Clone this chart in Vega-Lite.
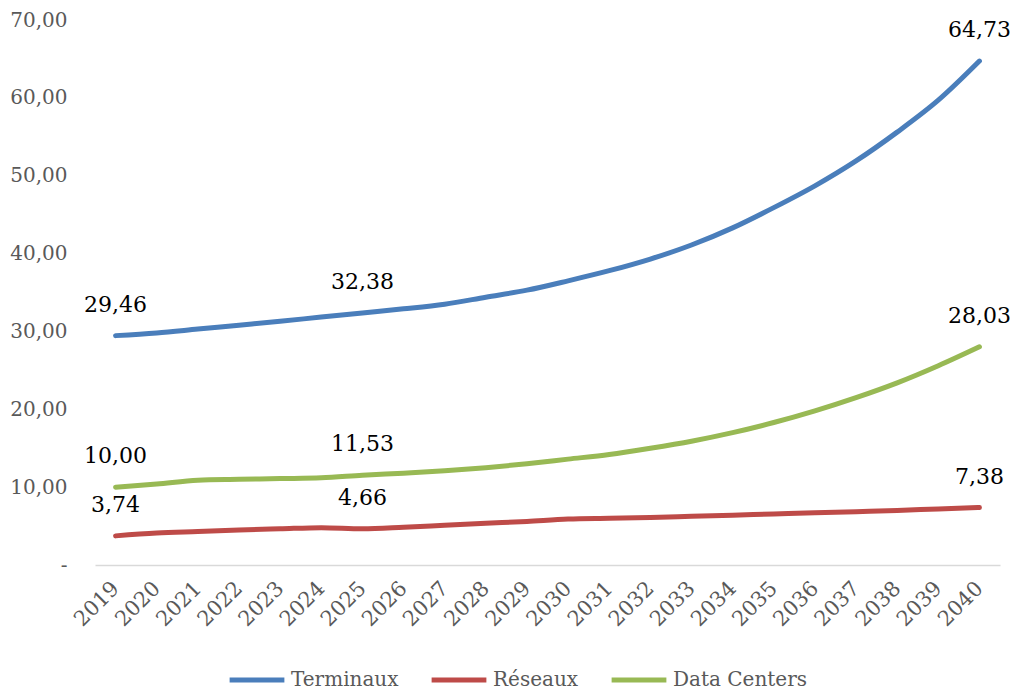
{
  "$schema": "https://vega.github.io/schema/vega-lite/v6.json",
  "autosize": "none",
  "width": 905,
  "height": 545,
  "padding": {"left": 95, "top": 20, "right": 18, "bottom": 125},
  "background": "white",
  "config": {
    "view": {"stroke": null},
    "font": "DejaVu Serif",
    "locale": {
      "number": {"decimal": ",", "thousands": "\u00a0", "grouping": [3], "currency": ["", " €"]}
    }
  },
  "data": {
    "values": [
      {"year": "2019", "series": "Terminaux", "value": 29.46},
      {"year": "2020", "series": "Terminaux", "value": 29.8},
      {"year": "2021", "series": "Terminaux", "value": 30.3},
      {"year": "2022", "series": "Terminaux", "value": 30.8},
      {"year": "2023", "series": "Terminaux", "value": 31.3},
      {"year": "2024", "series": "Terminaux", "value": 31.85},
      {"year": "2025", "series": "Terminaux", "value": 32.38},
      {"year": "2026", "series": "Terminaux", "value": 32.9},
      {"year": "2027", "series": "Terminaux", "value": 33.5},
      {"year": "2028", "series": "Terminaux", "value": 34.4},
      {"year": "2029", "series": "Terminaux", "value": 35.3},
      {"year": "2030", "series": "Terminaux", "value": 36.5},
      {"year": "2031", "series": "Terminaux", "value": 37.8},
      {"year": "2032", "series": "Terminaux", "value": 39.3},
      {"year": "2033", "series": "Terminaux", "value": 41.1},
      {"year": "2034", "series": "Terminaux", "value": 43.3},
      {"year": "2035", "series": "Terminaux", "value": 45.9},
      {"year": "2036", "series": "Terminaux", "value": 48.7},
      {"year": "2037", "series": "Terminaux", "value": 51.9},
      {"year": "2038", "series": "Terminaux", "value": 55.6},
      {"year": "2039", "series": "Terminaux", "value": 59.7},
      {"year": "2040", "series": "Terminaux", "value": 64.73},
      {"year": "2019", "series": "Réseaux", "value": 3.74},
      {"year": "2020", "series": "Réseaux", "value": 4.1},
      {"year": "2021", "series": "Réseaux", "value": 4.3},
      {"year": "2022", "series": "Réseaux", "value": 4.5},
      {"year": "2023", "series": "Réseaux", "value": 4.65},
      {"year": "2024", "series": "Réseaux", "value": 4.8},
      {"year": "2025", "series": "Réseaux", "value": 4.66},
      {"year": "2026", "series": "Réseaux", "value": 4.85},
      {"year": "2027", "series": "Réseaux", "value": 5.1},
      {"year": "2028", "series": "Réseaux", "value": 5.35},
      {"year": "2029", "series": "Réseaux", "value": 5.6},
      {"year": "2030", "series": "Réseaux", "value": 5.9},
      {"year": "2031", "series": "Réseaux", "value": 6.0},
      {"year": "2032", "series": "Réseaux", "value": 6.1},
      {"year": "2033", "series": "Réseaux", "value": 6.25},
      {"year": "2034", "series": "Réseaux", "value": 6.4},
      {"year": "2035", "series": "Réseaux", "value": 6.55},
      {"year": "2036", "series": "Réseaux", "value": 6.7},
      {"year": "2037", "series": "Réseaux", "value": 6.85},
      {"year": "2038", "series": "Réseaux", "value": 7.0},
      {"year": "2039", "series": "Réseaux", "value": 7.2},
      {"year": "2040", "series": "Réseaux", "value": 7.38},
      {"year": "2019", "series": "Data Centers", "value": 10.0},
      {"year": "2020", "series": "Data Centers", "value": 10.4},
      {"year": "2021", "series": "Data Centers", "value": 10.9},
      {"year": "2022", "series": "Data Centers", "value": 11.0},
      {"year": "2023", "series": "Data Centers", "value": 11.1},
      {"year": "2024", "series": "Data Centers", "value": 11.2},
      {"year": "2025", "series": "Data Centers", "value": 11.53},
      {"year": "2026", "series": "Data Centers", "value": 11.8},
      {"year": "2027", "series": "Data Centers", "value": 12.1},
      {"year": "2028", "series": "Data Centers", "value": 12.5},
      {"year": "2029", "series": "Data Centers", "value": 13.0},
      {"year": "2030", "series": "Data Centers", "value": 13.6},
      {"year": "2031", "series": "Data Centers", "value": 14.2},
      {"year": "2032", "series": "Data Centers", "value": 15.0},
      {"year": "2033", "series": "Data Centers", "value": 15.9},
      {"year": "2034", "series": "Data Centers", "value": 17.0},
      {"year": "2035", "series": "Data Centers", "value": 18.3},
      {"year": "2036", "series": "Data Centers", "value": 19.8},
      {"year": "2037", "series": "Data Centers", "value": 21.5},
      {"year": "2038", "series": "Data Centers", "value": 23.4},
      {"year": "2039", "series": "Data Centers", "value": 25.6},
      {"year": "2040", "series": "Data Centers", "value": 28.03}
    ]
  },
  "encoding": {
    "x": {
      "field": "year",
      "type": "ordinal",
      "scale": {"type": "point", "padding": 0.5},
      "axis": {
        "title": null,
        "labelAngle": -45,
        "labelAlign": "right",
        "labelBaseline": "middle",
        "labelFont": "DejaVu Serif",
        "labelFontSize": 21,
        "labelColor": "#595959",
        "labelPadding": 20,
        "ticks": false,
        "domainColor": "#D9D9D9",
        "domainWidth": 1.5,
        "grid": false
      }
    },
    "y": {
      "field": "value",
      "type": "quantitative",
      "scale": {"domain": [0, 70], "nice": false},
      "axis": {
        "title": null,
        "values": [0, 10, 20, 30, 40, 50, 60, 70],
        "labelExpr": "datum.value == 0 ? '-\u00a0\u00a0\u00a0' : format(datum.value, '.2f')",
        "labelFont": "DejaVu Serif",
        "labelFontSize": 20,
        "labelColor": "#595959",
        "labelPadding": 28,
        "ticks": false,
        "domain": false,
        "grid": false
      }
    },
    "color": {
      "field": "series",
      "type": "nominal",
      "scale": {
        "domain": ["Terminaux", "Réseaux", "Data Centers"],
        "range": ["#4A7EBB", "#BE4B48", "#98B954"]
      },
      "legend": {
        "title": null,
        "orient": "none",
        "legendX": 132,
        "legendY": 630,
        "direction": "horizontal",
        "symbolType": "stroke",
        "symbolSize": 3000,
        "symbolStrokeWidth": 5,
        "labelFont": "DejaVu Serif",
        "labelFontSize": 20,
        "labelColor": "#595959",
        "labelOffset": 4,
        "columnPadding": 22,
        "labelLimit": 300
      }
    }
  },
  "layer": [
    {
      "mark": {"type": "line", "interpolate": "monotone", "strokeWidth": 5, "strokeCap": "round"}
    },
    {
      "transform": [{"filter": "datum.year == '2019' || datum.year == '2025' || datum.year == '2040'"}],
      "mark": {"type": "text", "dy": -24, "baseline": "alphabetic", "align": "center", "fontSize": 22, "font": "DejaVu Serif", "color": "#000000"},
      "encoding": {
        "text": {"field": "value", "type": "quantitative", "format": ".2f"},
        "color": {"value": "#000000"}
      }
    }
  ]
}
